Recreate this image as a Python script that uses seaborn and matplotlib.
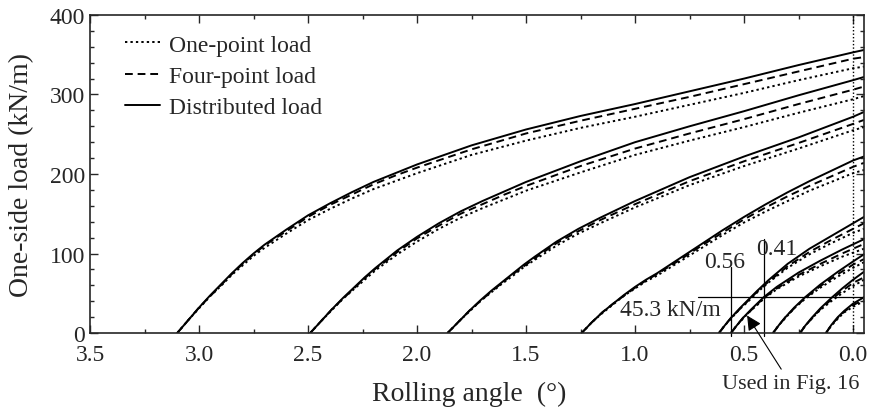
import matplotlib
matplotlib.use('Agg')
import matplotlib.pyplot as plt
import pandas as pd
import seaborn as sns
from matplotlib.ticker import MultipleLocator, FormatStrFormatter

# values: rolling angle (deg) vs one-side load (kN/m)
g1_angle = [3.10, 3.05, 3.00, 2.95, 2.90, 2.85, 2.80, 2.75, 2.70, 2.60, 2.50, 2.40, 2.30,
            2.20, 2.10, 2.00, 1.75, 1.50, 1.25, 1.00, 0.75, 0.50, 0.25, 0.00, -0.05]
g1_dist = [0, 16, 32, 47, 61, 75, 88, 100, 111, 130, 148, 163, 177, 190, 201, 212, 236, 256,
           273, 288, 304, 320, 337, 353, 356]
g1_four = [0, 16, 32, 46, 60, 74, 87, 99, 110, 128, 146, 161, 174, 187, 198, 208, 231, 251,
           267, 282, 297, 313, 329, 345, 347]
g1_one = [0, 16, 31, 46, 59, 73, 85, 97, 107, 125, 142, 156, 169, 181, 191, 201, 224, 242,
          258, 272, 287, 302, 318, 333, 335]

g2_angle = [2.49, 2.44, 2.39, 2.34, 2.29, 2.24, 2.19, 2.14, 2.09, 2.00, 1.90, 1.80, 1.70,
            1.60, 1.50, 1.25, 1.00, 0.75, 0.50, 0.25, 0.00, -0.05]
g2_dist = [0, 15, 30, 44, 57, 70, 82, 93, 104, 121, 138, 153, 166, 178, 190, 216, 240, 260,
           279, 299, 318, 322]
g2_four = [0, 15, 30, 43, 56, 69, 81, 91, 102, 119, 135, 150, 162, 174, 185, 210, 232, 251,
           269, 288, 306, 310]
g2_one = [0, 15, 29, 43, 55, 67, 79, 89, 99, 115, 131, 145, 157, 168, 179, 202, 224, 242,
          259, 277, 294, 298]

g3_angle = [1.86, 1.81, 1.76, 1.71, 1.66, 1.61, 1.56, 1.51, 1.46, 1.36, 1.26, 1.16, 1.00,
            0.75, 0.50, 0.25, 0.00, -0.05]
g3_dist = [0, 14, 28, 41, 53, 64, 75, 86, 96, 115, 131, 145, 166, 196, 222, 246, 272, 278]
g3_four = [0, 14, 28, 40, 52, 63, 74, 84, 94, 113, 128, 142, 162, 191, 216, 239, 263, 268]
g3_one = [0, 14, 27, 40, 51, 62, 72, 83, 92, 110, 125, 138, 158, 186, 210, 232, 255, 259]

g4_angle = [1.245, 1.20, 1.15, 1.10, 1.05, 1.00, 0.95, 0.90, 0.80, 0.70, 0.60, 0.50, 0.40,
            0.30, 0.20, 0.10, 0.00, -0.05]
g4_dist = [0, 13, 26, 37, 48, 58, 67, 75, 93, 111, 129, 146, 162, 177, 191, 204, 217, 222]
g4_four = [0, 13, 26, 37, 47, 57, 66, 74, 91, 109, 126, 143, 158, 172, 185, 197, 209, 214]
g4_one = [0, 13, 25, 36, 47, 56, 65, 72, 89, 106, 123, 139, 153, 166, 179, 190, 201, 205]

s1_angle = [0.615, 0.59, 0.56, 0.52, 0.48, 0.44, 0.39, 0.30, 0.20, 0.10, 0.00, -0.05]
s1_dist = [0, 9, 19, 31, 42, 53, 66, 87, 106, 122, 138, 146]
s1_four = [0, 9, 19, 30, 41, 52, 64, 84, 102, 117, 131, 138]
s1_one = [0, 9, 18, 30, 40, 51, 63, 82, 99, 113, 126, 131]

s2_angle = [0.56, 0.535, 0.505, 0.47, 0.44, 0.41, 0.35, 0.25, 0.15, 0.05, -0.05]
s2_dist = [0, 9, 19, 29, 37, 45, 58, 76, 91, 105, 118]
s2_four = [0, 9, 19, 28, 36, 44, 56, 73, 87, 100, 112]
s2_one = [0, 9, 18, 28, 35, 43, 55, 71, 84, 96, 106]

s3_angle = [0.367, 0.34, 0.31, 0.27, 0.22, 0.15, 0.07, 0.00, -0.05]
s3_dist = [0, 10, 20, 32, 45, 61, 77, 90, 99]
s3_four = [0, 10, 20, 31, 44, 59, 74, 86, 93]
s3_one = [0, 10, 19, 31, 43, 57, 71, 82, 89]

s4_angle = [0.243, 0.22, 0.19, 0.15, 0.10, 0.05, 0.00, -0.05]
s4_dist = [0, 9, 19, 31, 44, 56, 67, 77]
s4_four = [0, 9, 18, 30, 42, 53, 63, 70]
s4_one = [0, 9, 18, 29, 40, 50, 59, 67]

s5_angle = [0.124, 0.10, 0.07, 0.04, 0.00, -0.05]
s5_dist = [0, 10, 20, 28, 37, 45]
s5_four = [0, 10, 19, 27, 35, 42]
s5_one = [0, 9, 18, 26, 33, 40]

load_types = ['One-point load', 'Four-point load', 'Distributed load']

groups = [
    (g1_angle, g1_one, g1_four, g1_dist),
    (g2_angle, g2_one, g2_four, g2_dist),
    (g3_angle, g3_one, g3_four, g3_dist),
    (g4_angle, g4_one, g4_four, g4_dist),
    (s1_angle, s1_one, s1_four, s1_dist),
    (s2_angle, s2_one, s2_four, s2_dist),
    (s3_angle, s3_one, s3_four, s3_dist),
    (s4_angle, s4_one, s4_four, s4_dist),
    (s5_angle, s5_one, s5_four, s5_dist),
]

frames = []
for i, (ang, one, four, dist) in enumerate(groups):
    for name, vals in zip(load_types, (one, four, dist)):
        frames.append(pd.DataFrame({'angle': ang, 'load': vals, 'type': name,
                                    'curve': f'{i}-{name}'}))
df = pd.concat(frames, ignore_index=True)

sns.set_style('ticks')
plt.rcParams['font.family'] = ['Liberation Serif', 'DejaVu Serif']

fig = plt.figure(figsize=(8.69, 4.14), dpi=100)
ax = fig.add_axes([0.1036, 0.1932, 0.8906, 0.7682])

dashes = {'One-point load': (1.2, 1.6), 'Four-point load': (4, 2.5), 'Distributed load': ''}
sns.lineplot(data=df, x='angle', y='load', style='type', units='curve', estimator=None,
             sort=False, color='black', dashes=dashes, style_order=load_types,
             linewidth=1.4, ax=ax)

# annotations
ax.axvline(0.0, color='black', linestyle=(0, (1, 1.5)), linewidth=1.0)
ax.plot([0.71, -0.05], [45.3, 45.3], color='black', linewidth=0.9)
ax.plot([0.56, 0.56], [-4, 83], color='black', linewidth=0.9, clip_on=False)
ax.plot([0.41, 0.41], [-4, 118], color='black', linewidth=0.9, clip_on=False)
ax.text(0.587, 90, '0.56', fontsize=17, ha='center', va='center')
ax.text(0.349, 106, '0.41', fontsize=17, ha='center', va='center')
ax.text(0.84, 30, '45.3 kN/m', fontsize=17, ha='center', va='center')
ax.annotate('Used in Fig. 16', xy=(0.486, 22), xytext=(0.285, -63),
            fontsize=16, ha='center', va='center', annotation_clip=False,
            arrowprops=dict(arrowstyle='-|>', color='black', lw=0.8,
                            mutation_scale=22, shrinkA=1, shrinkB=0,
                            relpos=(0.45, 1.0)))

ax.set_xlim(3.5, -0.05)
ax.set_ylim(0, 400)
ax.xaxis.set_major_locator(MultipleLocator(0.5))
ax.xaxis.set_minor_locator(MultipleLocator(0.25))
ax.yaxis.set_major_locator(MultipleLocator(100))
ax.yaxis.set_minor_locator(MultipleLocator(20))
ax.xaxis.set_major_formatter(FormatStrFormatter('%.1f'))
ax.tick_params(which='both', direction='in', top=True, right=True, labelsize=17, width=1.0)
ax.tick_params(axis='x', which='major', pad=8)
ax.tick_params(which='major', length=6)
ax.tick_params(which='minor', length=3)
for s in ax.spines.values():
    s.set_linewidth(1.2)

ax.set_xlabel('Rolling angle  (°)', fontsize=20)
ax.set_ylabel('One-side load (kN/m)', fontsize=20)
ax.xaxis.set_label_coords(0.49, -0.15)
ax.yaxis.set_label_coords(-0.072, 0.50)

handles, labels = ax.get_legend_handles_labels()
keep = [(h, l) for h, l in zip(handles, labels) if l in load_types]
ax.legend([h for h, _ in keep], [l for _, l in keep], loc='upper left',
          bbox_to_anchor=(0.045, 0.94), borderaxespad=0, borderpad=0,
          frameon=False, fontsize=17, handlelength=1.5, handletextpad=0.35,
          labelspacing=0.42)

fig.savefig('out.png', dpi=100)
